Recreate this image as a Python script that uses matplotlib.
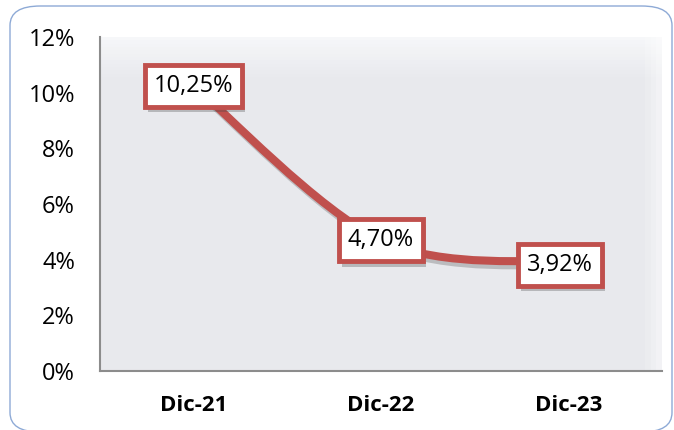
import numpy as np
import matplotlib
matplotlib.use("Agg")
import matplotlib.pyplot as plt
from matplotlib.path import Path
from matplotlib.patches import PathPatch, FancyBboxPatch
import matplotlib.patheffects as pe

categories = ["Dic-21", "Dic-22", "Dic-23"]
values = [10.25, 4.70, 3.92]
value_labels = ["10,25%", "4,70%", "3,92%"]
yticks = [0, 2, 4, 6, 8, 10, 12]
ytick_labels = ["0%", "2%", "4%", "6%", "8%", "10%", "12%"]

plt.rcParams['font.family'] = ["Open Sans", 'DejaVu Sans']

W, H = 674, 430
fig = plt.figure(figsize=(W / 100, H / 100), dpi=100)
fig.patch.set_facecolor("white")

# rounded frame
frame = FancyBboxPatch((10 / W, 1 - 432 / H), 662 / W, 426 / H,
                       boxstyle="round,pad=0,rounding_size=0.045",
                       transform=fig.transFigure, fc="none", ec="#8EAAD6", lw=1.0)
fig.patches.append(frame)

L, R, T, B = 100, 662, 37, 371
ax = fig.add_axes([L / W, 1 - B / H, (R - L) / W, (B - T) / H])
ax.set_facecolor("#E8E9ED")

# gradient background
grad = np.ones((100, 100, 3))
base = np.array([232, 233, 237]) / 255
light = np.array([246, 247, 249]) / 255
for i in range(100):
    t = max(0, 1 - i / 12)
    grad[i, :, :] = base * (1 - t) + light * t
for j in range(96, 100):
    t = (j - 96) / 4
    grad[:, j, :] = grad[:, j, :] * (1 - t * 0.6) + np.array([1, 1, 1]) * t * 0.6
ax.imshow(grad, extent=[0, 1, 0, 1], transform=ax.transAxes, aspect="auto", zorder=0)

n = len(values)
xs = np.arange(n, dtype=float)
ys = np.array(values, dtype=float)
ax.set_xlim(-0.5, n - 0.5)
ax.set_ylim(0, 12)

# smooth curve (Catmull-Rom style Bezier as in spreadsheet smoothing)
P = np.column_stack([xs, ys])
verts = [tuple(P[0])]
codes = [Path.MOVETO]
for i in range(n - 1):
    p0 = P[i - 1] if i > 0 else P[i]
    p1 = P[i]
    p2 = P[i + 1]
    p3 = P[i + 2] if i + 2 < n else P[i + 1]
    c1 = p1 + (p2 - p0) / 6
    c2 = p2 - (p3 - p1) / 6
    verts += [tuple(c1), tuple(c2), tuple(p2)]
    codes += [Path.CURVE4] * 3
path = Path(verts, codes)
line = PathPatch(path, fc="none", ec="#C0504D", lw=5.8, capstyle="round", zorder=3)
line.set_path_effects([pe.SimpleLineShadow(offset=(2, -3), shadow_color="#555555", alpha=0.3),
                       pe.Normal()])
ax.add_patch(line)

offsets = [(0, 0), (0, 0), (-6, -2)]
for x, y, lab, off in zip(xs, ys, value_labels, offsets):
    t = ax.annotate(lab, (x, y), xytext=off, textcoords="offset points",
                    ha="center", va="center", fontsize=17, color="black", zorder=5,
                    bbox=dict(boxstyle="square,pad=0.38", fc="white", ec="#C0504D", lw=3.5))
    t.get_bbox_patch().set_path_effects([pe.SimplePatchShadow(offset=(2, -4), shadow_rgbFace="#444444", alpha=0.3),
                                         pe.Normal()])

ax.set_yticks(yticks)
ax.set_yticklabels(ytick_labels, fontsize=17)
ax.set_xticks(xs)
ax.set_xticklabels(categories, fontsize=16, fontweight="bold")
ax.tick_params(axis="y", length=0, pad=18)
ax.tick_params(axis="x", length=0, pad=17)
for s in ["top", "right"]:
    ax.spines[s].set_visible(False)
for s in ["left", "bottom"]:
    ax.spines[s].set_color("#8C8C8C")
    ax.spines[s].set_linewidth(1.5)

fig.savefig("out.png", dpi=100)
